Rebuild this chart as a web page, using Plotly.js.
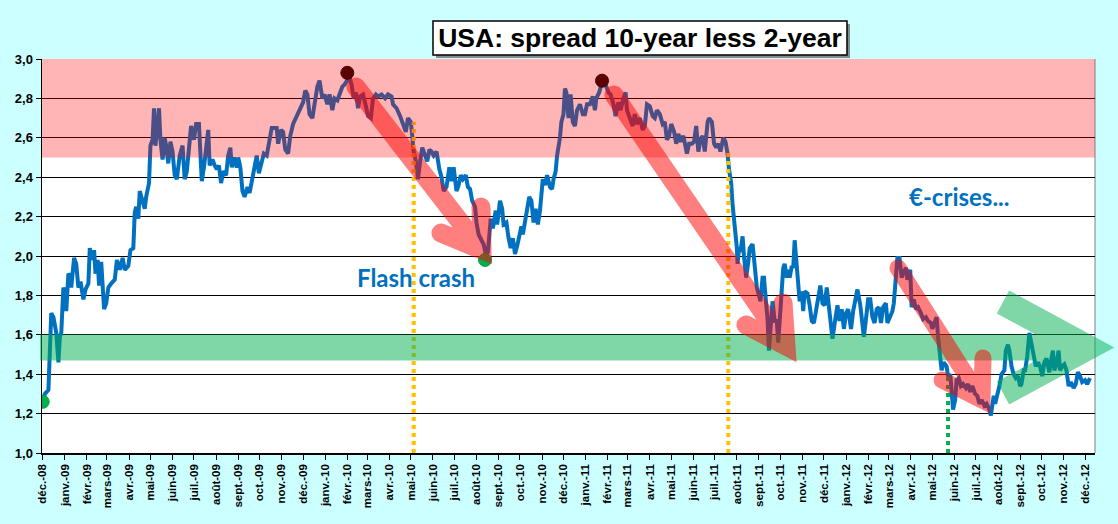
<!DOCTYPE html>
<html>
<head>
<meta charset="utf-8">
<script src="https://cdn.plot.ly/plotly-3.0.1.min.js"></script>
<style>html,body{margin:0;padding:0;background:#ccffff;}#chart{width:1118px;height:524px;}</style>
</head>
<body>
<div id="chart"></div>
<script>
// ---- DATA ----
const dates = [
'2008-12-01','2008-12-04','2008-12-09','2008-12-11','2008-12-13','2008-12-16','2008-12-18','2008-12-20','2008-12-23','2008-12-25','2008-12-27','2008-12-30',
'2009-01-01','2009-01-03','2009-01-06','2009-01-08','2009-01-10','2009-01-14','2009-01-17','2009-01-20','2009-01-23','2009-01-27','2009-01-30',
'2009-02-03','2009-02-05','2009-02-08','2009-02-11','2009-02-13','2009-02-16','2009-02-18','2009-02-21','2009-02-25','2009-02-28',
'2009-03-03','2009-03-07','2009-03-12','2009-03-15','2009-03-19','2009-03-23','2009-03-26','2009-03-31',
'2009-04-03','2009-04-07','2009-04-09','2009-04-11','2009-04-14','2009-04-16','2009-04-20','2009-04-23','2009-04-25','2009-04-29',
'2009-05-01','2009-05-04','2009-05-06','2009-05-08','2009-05-11','2009-05-13','2009-05-15','2009-05-18','2009-05-21','2009-05-23','2009-05-26','2009-05-29',
'2009-06-01','2009-06-04','2009-06-07','2009-06-11','2009-06-15','2009-06-18','2009-06-21','2009-06-25','2009-06-27',
'2009-07-01','2009-07-04','2009-07-08','2009-07-10','2009-07-12','2009-07-15','2009-07-18','2009-07-21','2009-07-23','2009-07-27','2009-07-30',
'2009-08-02','2009-08-05','2009-08-08','2009-08-11','2009-08-15','2009-08-18','2009-08-21','2009-08-23','2009-08-26','2009-08-30',
'2009-09-01','2009-09-04','2009-09-07','2009-09-10','2009-09-14','2009-09-17','2009-09-21','2009-09-23','2009-09-27','2009-09-30',
'2009-10-04','2009-10-07','2009-10-11','2009-10-14','2009-10-18','2009-10-21','2009-10-25','2009-10-27','2009-10-31',
'2009-11-03','2009-11-06','2009-11-10','2009-11-13','2009-11-17','2009-11-21','2009-11-24','2009-11-27',
'2009-12-01','2009-12-04','2009-12-07','2009-12-10','2009-12-14','2009-12-17','2009-12-21','2009-12-24','2009-12-28','2009-12-31',
'2010-01-04','2010-01-07','2010-01-11','2010-01-14','2010-01-18','2010-01-21','2010-01-25','2010-01-28',
'2010-02-01','2010-02-04','2010-02-07','2010-02-10','2010-02-13','2010-02-16','2010-02-19','2010-02-23','2010-02-27',
'2010-03-02','2010-03-06','2010-03-09','2010-03-13','2010-03-16','2010-03-21','2010-03-26','2010-03-30',
'2010-04-04','2010-04-06','2010-04-11','2010-04-16','2010-04-20','2010-04-24','2010-04-27',
'2010-05-01','2010-05-03','2010-05-05','2010-05-08','2010-05-11','2010-05-14','2010-05-17','2010-05-21','2010-05-24','2010-05-27','2010-05-30',
'2010-06-02','2010-06-06','2010-06-10','2010-06-13','2010-06-16','2010-06-20','2010-06-24','2010-06-27','2010-06-30',
'2010-07-04','2010-07-07','2010-07-10','2010-07-13','2010-07-17','2010-07-20','2010-07-23','2010-07-26','2010-07-30',
'2010-08-01','2010-08-04','2010-08-08','2010-08-11','2010-08-14','2010-08-17','2010-08-21','2010-08-24','2010-08-28','2010-08-30',
'2010-09-03','2010-09-06','2010-09-08','2010-09-12','2010-09-15','2010-09-18','2010-09-21','2010-09-24','2010-09-27','2010-09-30',
'2010-10-03','2010-10-05','2010-10-08','2010-10-11','2010-10-14','2010-10-17','2010-10-20','2010-10-23','2010-10-26','2010-10-29',
'2010-11-02','2010-11-05','2010-11-08','2010-11-12','2010-11-15','2010-11-17','2010-11-20','2010-11-22','2010-11-26','2010-11-28',
'2010-12-01','2010-12-03','2010-12-05','2010-12-08','2010-12-11','2010-12-14','2010-12-17','2010-12-20','2010-12-24','2010-12-28','2010-12-31',
'2011-01-03','2011-01-07','2011-01-11','2011-01-14','2011-01-16','2011-01-20','2011-01-23','2011-01-28',
'2011-02-02','2011-02-05','2011-02-09','2011-02-12','2011-02-16','2011-02-19','2011-02-23','2011-02-26','2011-02-28',
'2011-03-04','2011-03-08','2011-03-11','2011-03-14','2011-03-18','2011-03-22','2011-03-25','2011-03-28',
'2011-04-01','2011-04-05','2011-04-08','2011-04-11','2011-04-15','2011-04-19','2011-04-22','2011-04-25','2011-04-28',
'2011-05-01','2011-05-05','2011-05-08','2011-05-11','2011-05-14','2011-05-18','2011-05-20','2011-05-23','2011-05-26','2011-05-30',
'2011-06-02','2011-06-05','2011-06-08','2011-06-11','2011-06-14','2011-06-17','2011-06-21','2011-06-23','2011-06-27','2011-06-30',
'2011-07-03','2011-07-06','2011-07-09','2011-07-13','2011-07-16','2011-07-19','2011-07-21','2011-07-24','2011-07-26','2011-07-28','2011-07-30',
'2011-08-01','2011-08-02','2011-08-04','2011-08-06','2011-08-09','2011-08-11','2011-08-14','2011-08-17','2011-08-19','2011-08-23','2011-08-25','2011-08-29',
'2011-09-01','2011-09-03','2011-09-06','2011-09-08','2011-09-11','2011-09-13','2011-09-15','2011-09-18','2011-09-20','2011-09-23','2011-09-26','2011-09-28','2011-09-30',
'2011-10-03','2011-10-05','2011-10-07','2011-10-10','2011-10-12','2011-10-14','2011-10-17','2011-10-19','2011-10-21','2011-10-23','2011-10-25','2011-10-28','2011-10-31',
'2011-11-02','2011-11-04','2011-11-08','2011-11-11','2011-11-14','2011-11-17','2011-11-20','2011-11-23','2011-11-26','2011-11-29',
'2011-12-02','2011-12-05','2011-12-08','2011-12-11','2011-12-13','2011-12-17','2011-12-20','2011-12-23','2011-12-26','2011-12-29',
'2012-01-01','2012-01-04','2012-01-08','2012-01-11','2012-01-15','2012-01-17','2012-01-21','2012-01-23','2012-01-26','2012-01-29',
'2012-02-01','2012-02-04','2012-02-07','2012-02-10','2012-02-13','2012-02-16','2012-02-19','2012-02-22','2012-02-26','2012-02-28',
'2012-03-03','2012-03-06','2012-03-08','2012-03-11','2012-03-13','2012-03-16','2012-03-19','2012-03-21','2012-03-25','2012-03-27','2012-03-31',
'2012-04-02','2012-04-05','2012-04-08','2012-04-11','2012-04-15','2012-04-18','2012-04-22','2012-04-25','2012-04-29',
'2012-05-01','2012-05-05','2012-05-07','2012-05-09','2012-05-12','2012-05-14','2012-05-17','2012-05-21','2012-05-23','2012-05-26','2012-05-28','2012-05-30',
'2012-06-02','2012-06-04','2012-06-07','2012-06-10','2012-06-13','2012-06-17','2012-06-20','2012-06-23','2012-06-26','2012-06-30',
'2012-07-03','2012-07-06','2012-07-09','2012-07-13','2012-07-16','2012-07-20','2012-07-22','2012-07-26','2012-07-28','2012-07-31',
'2012-08-03','2012-08-06','2012-08-10','2012-08-12','2012-08-15','2012-08-17','2012-08-20','2012-08-23','2012-08-26','2012-08-29',
'2012-09-01','2012-09-03','2012-09-06','2012-09-08','2012-09-11','2012-09-14','2012-09-16','2012-09-20','2012-09-23','2012-09-26','2012-09-29',
'2012-10-02','2012-10-05','2012-10-08','2012-10-12','2012-10-14','2012-10-17','2012-10-19','2012-10-22','2012-10-25','2012-10-27','2012-10-30',
'2012-11-02','2012-11-05','2012-11-08','2012-11-11','2012-11-15','2012-11-18','2012-11-21','2012-11-24','2012-11-27',
'2012-12-01','2012-12-04','2012-12-08'
];
const spread = [
1.26,1.30,1.32,1.47,1.71,1.69,1.64,1.61,1.46,1.59,1.61,1.84,
1.81,1.72,1.91,1.90,1.84,1.99,1.96,1.84,1.87,1.78,1.83,
1.86,2.04,1.98,2.03,1.91,1.98,1.85,1.97,1.73,1.76,
1.84,1.86,1.88,1.98,1.93,1.99,1.93,1.95,
2.03,2.04,2.22,2.25,2.19,2.33,2.28,2.24,2.30,2.37,
2.56,2.59,2.75,2.56,2.67,2.75,2.59,2.49,2.60,2.56,2.47,2.58,
2.53,2.41,2.39,2.51,2.56,2.39,2.43,2.59,2.66,
2.59,2.67,2.67,2.54,2.38,2.45,2.56,2.64,2.46,2.49,2.46,
2.44,2.46,2.37,2.43,2.41,2.51,2.55,2.45,2.50,2.45,
2.50,2.45,2.33,2.30,2.35,2.32,2.40,2.42,2.51,2.42,
2.49,2.52,2.51,2.56,2.65,2.65,2.65,2.57,2.64,
2.63,2.54,2.52,2.61,2.67,2.70,2.72,2.75,
2.78,2.84,2.82,2.72,2.70,2.77,2.86,2.89,2.80,2.82,
2.77,2.82,2.74,2.80,2.79,2.82,2.86,2.87,
2.89,2.91,2.87,2.80,2.83,2.75,2.81,2.82,2.76,
2.71,2.70,2.80,2.82,2.81,2.82,2.80,2.82,
2.81,2.77,2.75,2.71,2.67,2.63,2.70,
2.68,2.61,2.53,2.48,2.39,2.48,2.55,2.51,2.48,2.54,2.53,
2.51,2.53,2.44,2.40,2.33,2.35,2.45,2.38,2.45,
2.33,2.36,2.41,2.39,2.41,2.35,2.34,2.28,2.25,
2.17,2.11,2.08,2.06,2.01,2.02,2.19,2.14,2.23,2.16,
2.28,2.24,2.16,2.17,2.09,2.04,2.09,2.01,2.05,2.11,
2.15,2.11,2.17,2.23,2.30,2.28,2.17,2.24,2.16,2.23,
2.39,2.36,2.41,2.35,2.34,2.39,2.43,2.51,2.60,2.68,
2.72,2.85,2.83,2.70,2.82,2.68,2.66,2.74,2.77,2.72,2.72,
2.77,2.77,2.81,2.74,2.80,2.83,2.87,2.88,
2.83,2.82,2.77,2.71,2.78,2.74,2.80,2.83,2.74,
2.70,2.66,2.72,2.67,2.70,2.64,2.66,2.77,
2.76,2.71,2.70,2.74,2.72,2.67,2.68,2.59,2.61,
2.67,2.63,2.57,2.62,2.58,2.61,2.58,2.52,2.57,2.57,
2.58,2.66,2.53,2.59,2.61,2.53,2.68,2.70,2.68,2.57,
2.55,2.57,2.53,2.60,2.58,2.52,2.44,2.37,2.26,2.19,2.13,
2.04,1.96,2.04,2.02,2.10,2.00,1.89,1.97,2.04,2.06,1.97,1.84,
1.80,1.77,1.89,1.89,1.76,1.68,1.52,1.72,1.77,1.67,1.67,1.56,1.68,
1.80,1.94,1.96,1.89,1.93,1.89,1.95,1.94,2.08,1.98,1.85,1.77,1.82,
1.72,1.82,1.81,1.75,1.67,1.66,1.73,1.80,1.85,1.76,
1.75,1.84,1.74,1.68,1.58,1.68,1.75,1.67,1.73,1.63,
1.71,1.73,1.63,1.72,1.78,1.83,1.75,1.70,1.59,1.68,
1.78,1.78,1.69,1.66,1.73,1.74,1.66,1.74,1.76,1.66,
1.69,1.72,1.76,1.93,1.99,1.99,1.89,1.91,1.94,1.88,1.93,
1.74,1.78,1.73,1.74,1.71,1.68,1.69,1.67,1.66,
1.63,1.67,1.69,1.59,1.49,1.42,1.46,1.44,1.39,1.40,1.32,1.22,
1.27,1.37,1.38,1.34,1.35,1.33,1.35,1.31,1.34,1.30,
1.29,1.25,1.27,1.24,1.25,1.22,1.19,1.29,1.25,1.29,
1.34,1.40,1.42,1.52,1.55,1.52,1.44,1.40,1.38,1.39,
1.34,1.35,1.42,1.42,1.49,1.61,1.57,1.49,1.44,1.46,1.44,
1.39,1.46,1.48,1.41,1.46,1.52,1.42,1.45,1.52,1.42,1.44,
1.45,1.42,1.34,1.36,1.33,1.35,1.41,1.39,1.36,
1.37,1.35,1.38
];
// highlighted points
const lowDates  = ['2008-12-01','2010-08-13'];
const lowVals   = [1.26, 1.98];
const highDates = ['2010-02-01','2011-01-24'];
const highVals  = [2.93, 2.89];
// event markers (vertical dotted lines)
const eventDates = ['2010-05-05','2011-07-20','2012-05-23'];
const eventTops  = [2.68, 2.53, 1.39];
const eventColors = ['#ffc000','#ffc000','#00b050'];
// axis ticks
const tickDates = [
'2008-12-01','2009-01-01','2009-02-01','2009-03-01','2009-04-01','2009-05-01','2009-06-01','2009-07-01','2009-08-01','2009-09-01','2009-10-01','2009-11-01',
'2009-12-01','2010-01-01','2010-02-01','2010-03-01','2010-04-01','2010-05-01','2010-06-01','2010-07-01','2010-08-01','2010-09-01','2010-10-01','2010-11-01',
'2010-12-01','2011-01-01','2011-02-01','2011-03-01','2011-04-01','2011-05-01','2011-06-01','2011-07-01','2011-08-01','2011-09-01','2011-10-01','2011-11-01',
'2011-12-01','2012-01-01','2012-02-01','2012-03-01','2012-04-01','2012-05-01','2012-06-01','2012-07-01','2012-08-01','2012-09-01','2012-10-01','2012-11-01',
'2012-12-01'
];
const tickLabels = [
'déc.-08','janv.-09','févr.-09','mars-09','avr.-09','mai-09','juin-09','juil.-09','août-09','sept.-09','oct.-09','nov.-09',
'déc.-09','janv.-10','févr.-10','mars-10','avr.-10','mai-10','juin-10','juil.-10','août-10','sept.-10','oct.-10','nov.-10',
'déc.-10','janv.-11','févr.-11','mars-11','avr.-11','mai-11','juin-11','juil.-11','août-11','sept.-11','oct.-11','nov.-11',
'déc.-11','janv.-12','févr.-12','mars-12','avr.-12','mai-12','juin-12','juil.-12','août-12','sept.-12','oct.-12','nov.-12',
'déc.-12'
];
const titleText = 'USA: spread 10-year less 2-year';

// ---- LAYOUT HELPERS (plot area in pixels -> paper fractions) ----
const PL = 42, PR = 1095, PT = 59, PB = 453;
const px = X => ((X - PL) / (PR - PL)).toFixed(5);
const py = Y => ((PB - Y) / (PB - PT)).toFixed(5);
function pth(segs){ return segs.map(s => s[0] + ' ' + px(s[1]) + ',' + py(s[2])).join(' '); }

const shapes = [];
// dotted event lines
eventDates.forEach((d,i) => shapes.push({type:'line', xref:'x', yref:'y', x0:d, x1:d, y0:1, y1:eventTops[i],
  line:{color:eventColors[i], width:4, dash:'dot'}, layer:'above'}));
// red zone
shapes.push({type:'rect', xref:'paper', yref:'y', x0:0, x1:1, y0:2.5, y1:3.0, fillcolor:'rgba(255,0,0,0.29)', line:{width:0}, layer:'above'});
// green band arrow (shaft + open head)
shapes.push({type:'path', xref:'paper', yref:'paper', layer:'above',
  path: pth([['M',40,347.5],['L',1087,347.5],['M',1003,302],['L',1087,347.5],['L',1003,393]]),
  line:{color:'rgba(0,176,80,0.5)', width:26}});
// red arrows
shapes.push({type:'path', xref:'paper', yref:'paper', layer:'above',
  path: pth([['M',356,87],['L',482,250],['M',481,207],['L',482,250],['L',441,233]]),
  line:{color:'rgba(255,0,0,0.5)', width:19}});
shapes.push({type:'path', xref:'paper', yref:'paper', layer:'above',
  path: pth([['M',614,95],['L',786,346],['M',783,303],['L',786,346],['L',746,325]]),
  line:{color:'rgba(255,0,0,0.5)', width:19}});
shapes.push({type:'path', xref:'paper', yref:'paper', layer:'above',
  path: pth([['M',898,268],['L',982,400],['M',983,358],['L',982,400],['L',942,380]]),
  line:{color:'rgba(255,0,0,0.5)', width:17}});
// plot right border
shapes.push({type:'line', xref:'paper', yref:'paper', x0:1, x1:1, y0:0, y1:1, line:{color:'#808080', width:1}, layer:'below'});
// title box with shadow
shapes.push({type:'rect', xref:'paper', yref:'paper', x0:px(436), x1:px(850), y0:py(58), y1:py(24), fillcolor:'#7f8f8f', line:{width:0}, layer:'above'});
shapes.push({type:'rect', xref:'paper', yref:'paper', x0:px(433), x1:px(847), y0:py(55), y1:py(21), fillcolor:'#ffffff', line:{color:'#000000', width:1.5}, layer:'above'});

const traces = [
  {x: dates, y: spread, type:'scatter', mode:'lines', line:{color:'#0070c0', width:4}, hoverinfo:'skip', showlegend:false},
  {x: lowDates, y: lowVals, type:'scatter', mode:'markers', marker:{color:'#00b050', size:13, line:{color:'#00a040', width:1}}, hoverinfo:'skip', showlegend:false},
  {x: highDates, y: highVals, type:'scatter', mode:'markers', marker:{color:'#1a0000', size:13, line:{color:'#000000', width:1}}, hoverinfo:'skip', showlegend:false}
];

const layout = {
  width:1118, height:524, autosize:false,
  paper_bgcolor:'#ccffff', plot_bgcolor:'#ffffff',
  margin:{l:PL, r:1118-PR, t:PT, b:524-PB, pad:0},
  separators:', ',
  showlegend:false,
  title:{text:titleText, xref:'container', yref:'container', x:640/1118, xanchor:'center', y:1-38/524, yanchor:'middle',
         font:{family:'Liberation Sans, Arial, sans-serif', size:26.5, weight:'bold', color:'#000000'}},
  xaxis:{type:'date', range:['2008-11-30','2012-12-15'], tickmode:'array', tickvals:tickDates, ticktext:tickLabels,
         tickangle:-90, ticks:'outside', ticklen:5, tickcolor:'#000', showline:true, linecolor:'#000', linewidth:1.5,
         showgrid:false, zeroline:false,
         tickfont:{family:'Liberation Sans, Arial, sans-serif', size:11.5, weight:'bold', color:'#000'}},
  yaxis:{range:[1,3], tick0:1, dtick:0.2, tickformat:'.1f', ticks:'outside', ticklen:5, tickcolor:'#000',
         showline:true, linecolor:'#000', linewidth:1.5, showgrid:true, gridcolor:'#000000', gridwidth:1, zeroline:false,
         tickfont:{family:'Liberation Sans, Arial, sans-serif', size:13, weight:'bold', color:'#000'}},
  shapes: shapes,
  annotations:[
    {text:'Flash crash', xref:'paper', yref:'paper', x:px(416), y:py(277), xanchor:'center', yanchor:'middle', showarrow:false,
     font:{family:'Lato, sans-serif', size:24, weight:'bold', color:'#0070c0'}},
    {text:'€-crises...', xref:'paper', yref:'paper', x:px(960), y:py(197), xanchor:'center', yanchor:'middle', showarrow:false,
     font:{family:'Lato, sans-serif', size:24, weight:'bold', color:'#0070c0'}}
  ]
};

Plotly.newPlot('chart', traces, layout, {displayModeBar:false, staticPlot:true}).then(function(){
  document.querySelectorAll('.shapelayer path').forEach(function(p){
    var st = p.getAttribute('style') || '';
    if (st.indexOf('rgb(255, 0, 0)') >= 0 && (st.indexOf('stroke-width: 19') >= 0 || st.indexOf('stroke-width: 17') >= 0)) {
      p.style.strokeLinecap = 'round';
    }
  });
});
</script>
</body>
</html>
